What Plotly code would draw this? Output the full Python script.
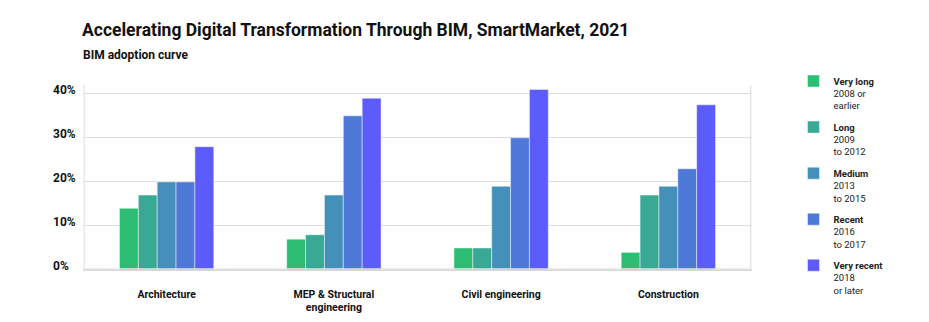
import plotly.graph_objects as go

# BIM adoption by discipline and adoption period (% of respondents)
categories = ["Architecture", "MEP & Structural<br>engineering", "Civil engineering", "Construction"]

series_names = ["Very long", "Long", "Medium", "Recent", "Very recent"]
series_periods = ["2008 or<br>earlier", "2009<br>to 2012", "2013<br>to 2015", "2016<br>to 2017", "2018<br>or later"]
series_colors = ["#2DBE74", "#38A995", "#4490BA", "#4F79D8", "#5B5CFB"]

very_long = [14, 7, 5, 4]
long_ = [17, 8, 5, 17]
medium = [20, 17, 19, 19]
recent = [20, 35, 30, 23]
very_recent = [28, 39, 41, 37.5]
series_values = [very_long, long_, medium, recent, very_recent]

y_ticks = [0, 10, 20, 30, 40]
y_tick_labels = ["0%", "10%", "20%", "30%", "40%"]

FONT = "Roboto"

fig = go.Figure()
for name, period, color, values in zip(series_names, series_periods, series_colors, series_values):
    fig.add_trace(go.Bar(
        x=categories,
        y=values,
        name=f"<b>{name}</b><br>{period}",
        marker=dict(color=color, line=dict(color="rgba(255,255,255,0.45)", width=1)),
        legendgroup=name,
        hoverinfo="skip",
    ))

# left-aligned y tick labels sitting just above each gridline
for v, t in zip(y_ticks, y_tick_labels):
    fig.add_annotation(
        x=-0.048, xref="paper", y=v, yref="y", text=f"<b>{t}</b>",
        showarrow=False, xanchor="left", yanchor="middle", yshift=4,
        font=dict(family=FONT, size=12, color="#111"),
    )

# subtitle under the main heading
fig.add_annotation(
    x=-0.003, xref="paper", y=1.162, yref="paper", text="<b>BIM adoption curve</b>",
    showarrow=False, xanchor="left", yanchor="middle",
    font=dict(family=FONT, size=12, color="#111"),
)

fig.update_layout(
    width=929, height=322,
    margin=dict(l=83, r=177, t=85, b=52, autoexpand=False),
    paper_bgcolor="white", plot_bgcolor="white",
    barmode="group", bargap=0.436, bargroupgap=0,
    title=dict(
        text="<b>Accelerating Digital Transformation Through BIM, SmartMarket, 2021</b>",
        x=82 / 929, xanchor="left", y=1 - 30 / 322, yanchor="middle",
        font=dict(family=FONT, size=17.5, color="#111"),
    ),
    xaxis=dict(
        showgrid=False, showline=False, ticks="", automargin=False,
        tickfont=dict(family=FONT, size=10.5, color="#111", weight="bold"),
        ticklabelstandoff=16,
    ),
    yaxis=dict(
        range=[0, 42], tickvals=y_ticks, showticklabels=False, automargin=False,
        showgrid=True, gridcolor="#DCDCDC", gridwidth=1.3,
        zeroline=True, zerolinecolor="#D8D8D8", zerolinewidth=2,
        showline=False, ticks="",
    ),
    legend=dict(
        x=1.062, xanchor="left", y=1.09, yanchor="top",
        valign="top", tracegroupgap=6, itemclick=False, maxheight=300,
        font=dict(family=FONT, size=9.5, color="#222"),
        traceorder="grouped",
    ),
    showlegend=True,
)

# thin frame round the card
for x0, y0, x1, y1 in [(0.002, 0, 0.002, 1), (0.998, 0, 0.998, 1), (0.002, 0.006, 0.998, 0.006)]:
    fig.add_shape(type="line", xref="paper", yref="paper", x0=x0, y0=y0, x1=x1, y1=y1,
                  line=dict(color="#E6E6E6", width=1.5))

fig.write_html("out.html")
